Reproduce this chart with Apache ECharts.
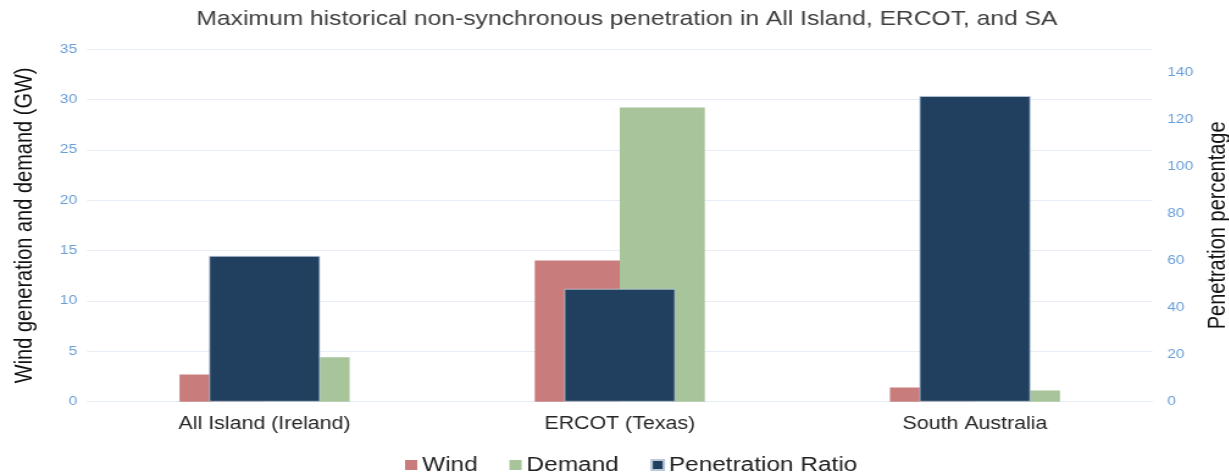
<!DOCTYPE html>
<html>
<head>
<meta charset="utf-8">
<title>Maximum historical non-synchronous penetration</title>
<script src="https://cdn.jsdelivr.net/npm/echarts@6/dist/echarts.min.js"></script>
<style>
  html, body { margin: 0; padding: 0; background: #ffffff; overflow: hidden; }
  /* the chart is laid out narrower and widened horizontally */
  #chart { width: 1007.4px; height: 473px; transform: scaleX(1.22); transform-origin: 0 0; }
</style>
</head>
<body>
<div id="chart"></div>
<script>
// Regions compared
const categories = ['All Island (Ireland)', 'ERCOT (Texas)', 'South Australia'];
// Maximum wind generation and system demand at that moment (GW)
const windGW = [2.7, 14.0, 1.4];
const demandGW = [4.4, 29.2, 1.1];
// Non-synchronous penetration ratio (%)
const penetrationPct = [62, 48, 130];

const FONT = '"Liberation Sans", Arial, sans-serif';
const TICK_BLUE = '#6b9fd6';
const GRID_LINE = '#e6edf6';

const chart = echarts.init(document.getElementById('chart'), null, { renderer: 'canvas' });

chart.setOption({
  animation: false,
  backgroundColor: '#ffffff',
  title: {
    text: 'Maximum historical non-synchronous penetration in All Island, ERCOT, and SA',
    left: 156,
    top: 4,
    textStyle: { fontFamily: FONT, fontSize: 20.2, fontWeight: 'normal', color: '#404040' }
  },
  legend: {
    left: 327,
    top: 450,
    itemWidth: 10,
    itemHeight: 10,
    itemGap: 26,
    icon: 'rect',
    textStyle: { fontFamily: FONT, fontSize: 20, color: '#222222', padding: [0, 0, 0, -1] },
    data: ['Wind', 'Demand', 'Penetration Ratio']
  },
  grid: {
    left: 71.3, right: 62.3, top: 49, bottom: 71.3,
    containLabel: false,
    outerBoundsMode: 'none'
  },
  xAxis: [
    {
      type: 'category',
      data: categories,
      axisLine: { show: true, lineStyle: { color: GRID_LINE, width: 1 } },
      axisTick: { show: false },
      axisLabel: { fontFamily: FONT, fontSize: 17.5, color: '#262626', margin: 13 }
    },
    {
      type: 'category',
      data: categories,
      show: false
    }
  ],
  yAxis: [
    {
      type: 'value',
      min: 0,
      max: 35,
      interval: 5,
      name: 'Wind generation and demand (GW)',
      nameLocation: 'middle',
      nameGap: 41,
      nameTextStyle: { fontFamily: FONT, fontSize: 20, color: '#111111' },
      axisLine: { show: false },
      axisTick: { show: false },
      axisLabel: { fontFamily: FONT, fontSize: 12.8, color: TICK_BLUE, margin: 8 },
      splitLine: { show: true, lineStyle: { color: GRID_LINE, width: 1 } }
    },
    {
      type: 'value',
      min: 0,
      max: 150,
      interval: 20,
      position: 'right',
      name: 'Penetration percentage',
      nameLocation: 'middle',
      nameGap: 40,
      nameTextStyle: { fontFamily: FONT, fontSize: 20, color: '#111111' },
      axisLine: { show: false },
      axisTick: { show: false },
      axisLabel: { fontFamily: FONT, fontSize: 12.8, color: TICK_BLUE, margin: 12, showMaxLabel: false },
      splitLine: { show: false }
    }
  ],
  series: [
    {
      name: 'Wind',
      type: 'bar',
      xAxisIndex: 0,
      yAxisIndex: 0,
      data: windGW,
      barWidth: 69.7,
      barGap: '0%',
      itemStyle: { color: '#c97c7c' }
    },
    {
      name: 'Demand',
      type: 'bar',
      xAxisIndex: 0,
      yAxisIndex: 0,
      data: demandGW,
      barWidth: 69.7,
      barGap: '0%',
      itemStyle: { color: '#a8c49a' }
    },
    {
      name: 'Penetration Ratio',
      type: 'bar',
      xAxisIndex: 1,
      yAxisIndex: 1,
      data: penetrationPct,
      barWidth: 91,
      z: 3,
      itemStyle: { color: '#21405f', borderColor: '#b9c9da', borderWidth: 0.8 }
    }
  ]
});
</script>
</body>
</html>
